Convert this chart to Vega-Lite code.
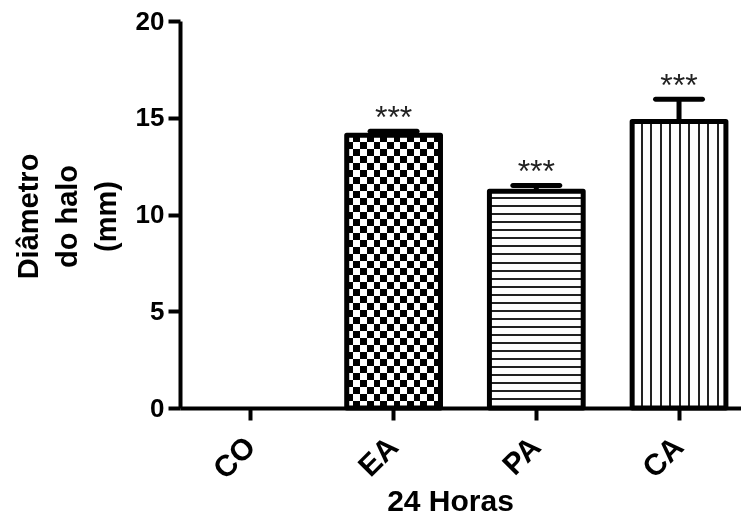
{
  "$schema": "https://vega.github.io/schema/vega-lite/v6.json",
  "width": 561,
  "height": 387,
  "autosize": {"type": "none"},
  "padding": {"left": 180, "top": 21, "right": 0, "bottom": 107},
  "background": "white",
  "config": {"view": {"stroke": null}, "font": "Liberation Sans"},
  "data": {
    "values": [
      {"g": "CO", "mean": 0, "upper": null, "star": ""},
      {"g": "EA", "mean": 14.1, "upper": 14.3, "star": "***"},
      {"g": "PA", "mean": 11.2, "upper": 11.5, "star": "***"},
      {"g": "CA", "mean": 14.8, "upper": 15.95, "star": "***"}
    ]
  },
  "encoding": {
    "x": {
      "field": "g",
      "type": "nominal",
      "sort": null,
      "scale": {"domain": ["CO", "EA", "PA", "CA"], "paddingInner": 0.343, "paddingOuter": 0.137, "align": 0.614},
      "axis": {
        "title": "24 Horas",
        "titleFont": "Liberation Sans",
        "titleFontSize": 30,
        "titleFontWeight": "bold",
        "titleColor": "#000",
        "titleX": 270,
        "titleY": 102,
        "titleBaseline": "alphabetic",
        "titleAlign": "center",
        "labelAngle": -45,
        "labelAlign": "right",
        "labelBaseline": "middle",
        "labelFont": "Liberation Sans",
        "labelFontSize": 30,
        "labelFontWeight": "bold",
        "labelColor": "#000",
        "labelPadding": 22,
        "tickSize": 12,
        "tickWidth": 4,
        "tickColor": "#000",
        "domainColor": "#000",
        "domainWidth": 4,
        "grid": false
      }
    },
    "y": {
      "field": "mean",
      "type": "quantitative",
      "scale": {"domain": [0, 20], "nice": false},
      "axis": {
        "values": [0, 5, 10, 15, 20],
        "title": ["Diâmetro", "do halo", "(mm)"],
        "titleFont": "Liberation Sans",
        "titleFontSize": 29,
        "titleFontWeight": "bold",
        "titleLineHeight": 39,
        "titleBaseline": "top",
        "titleAlign": "center",
        "titleX": -166,
        "titleY": 195,
        "titleColor": "#000",
        "labelFont": "Liberation Sans",
        "labelFontSize": 26,
        "labelFontWeight": "bold",
        "labelColor": "#000",
        "labelPadding": 4,
        "tickSize": 12,
        "tickWidth": 4,
        "tickColor": "#000",
        "domainColor": "#000",
        "domainWidth": 4,
        "grid": false
      }
    }
  },
  "layer": [
    {
      "transform": [{"filter": "datum.g === 'EA'"}],
      "mark": {
        "type": "bar",
        "fill": {
          "gradient": "linear", "x1": 0, "y1": 0, "x2": 0, "y2": 1,
          "stops": [
            {"offset": 0, "color": "#fff"},
            {"offset": 0.02564, "color": "#fff"}, {"offset": 0.02564, "color": "#000"},
            {"offset": 0.05128, "color": "#000"}, {"offset": 0.05128, "color": "#fff"},
            {"offset": 0.07692, "color": "#fff"}, {"offset": 0.07692, "color": "#000"},
            {"offset": 0.10256, "color": "#000"}, {"offset": 0.10256, "color": "#fff"},
            {"offset": 0.12821, "color": "#fff"}, {"offset": 0.12821, "color": "#000"},
            {"offset": 0.15385, "color": "#000"}, {"offset": 0.15385, "color": "#fff"},
            {"offset": 0.17949, "color": "#fff"}, {"offset": 0.17949, "color": "#000"},
            {"offset": 0.20513, "color": "#000"}, {"offset": 0.20513, "color": "#fff"},
            {"offset": 0.23077, "color": "#fff"}, {"offset": 0.23077, "color": "#000"},
            {"offset": 0.25641, "color": "#000"}, {"offset": 0.25641, "color": "#fff"},
            {"offset": 0.28205, "color": "#fff"}, {"offset": 0.28205, "color": "#000"},
            {"offset": 0.30769, "color": "#000"}, {"offset": 0.30769, "color": "#fff"},
            {"offset": 0.33333, "color": "#fff"}, {"offset": 0.33333, "color": "#000"},
            {"offset": 0.35897, "color": "#000"}, {"offset": 0.35897, "color": "#fff"},
            {"offset": 0.38462, "color": "#fff"}, {"offset": 0.38462, "color": "#000"},
            {"offset": 0.41026, "color": "#000"}, {"offset": 0.41026, "color": "#fff"},
            {"offset": 0.4359, "color": "#fff"}, {"offset": 0.4359, "color": "#000"},
            {"offset": 0.46154, "color": "#000"}, {"offset": 0.46154, "color": "#fff"},
            {"offset": 0.48718, "color": "#fff"}, {"offset": 0.48718, "color": "#000"},
            {"offset": 0.51282, "color": "#000"}, {"offset": 0.51282, "color": "#fff"},
            {"offset": 0.53846, "color": "#fff"}, {"offset": 0.53846, "color": "#000"},
            {"offset": 0.5641, "color": "#000"}, {"offset": 0.5641, "color": "#fff"},
            {"offset": 0.58974, "color": "#fff"}, {"offset": 0.58974, "color": "#000"},
            {"offset": 0.61538, "color": "#000"}, {"offset": 0.61538, "color": "#fff"},
            {"offset": 0.64103, "color": "#fff"}, {"offset": 0.64103, "color": "#000"},
            {"offset": 0.66667, "color": "#000"}, {"offset": 0.66667, "color": "#fff"},
            {"offset": 0.69231, "color": "#fff"}, {"offset": 0.69231, "color": "#000"},
            {"offset": 0.71795, "color": "#000"}, {"offset": 0.71795, "color": "#fff"},
            {"offset": 0.74359, "color": "#fff"}, {"offset": 0.74359, "color": "#000"},
            {"offset": 0.76923, "color": "#000"}, {"offset": 0.76923, "color": "#fff"},
            {"offset": 0.79487, "color": "#fff"}, {"offset": 0.79487, "color": "#000"},
            {"offset": 0.82051, "color": "#000"}, {"offset": 0.82051, "color": "#fff"},
            {"offset": 0.84615, "color": "#fff"}, {"offset": 0.84615, "color": "#000"},
            {"offset": 0.87179, "color": "#000"}, {"offset": 0.87179, "color": "#fff"},
            {"offset": 0.89744, "color": "#fff"}, {"offset": 0.89744, "color": "#000"},
            {"offset": 0.92308, "color": "#000"}, {"offset": 0.92308, "color": "#fff"},
            {"offset": 0.94872, "color": "#fff"}, {"offset": 0.94872, "color": "#000"},
            {"offset": 0.97436, "color": "#000"}, {"offset": 0.97436, "color": "#fff"},
            {"offset": 1, "color": "#fff"}
          ]
        }
      }
    },
    {
      "transform": [{"filter": "datum.g === 'EA'"}],
      "mark": {
        "type": "bar",
        "blend": "difference",
        "fill": {
          "gradient": "linear", "x1": 0, "y1": 0, "x2": 1, "y2": 0,
          "stops": [
            {"offset": 0, "color": "#000"},
            {"offset": 0.07143, "color": "#000"}, {"offset": 0.07143, "color": "#fff"},
            {"offset": 0.14286, "color": "#fff"}, {"offset": 0.14286, "color": "#000"},
            {"offset": 0.21429, "color": "#000"}, {"offset": 0.21429, "color": "#fff"},
            {"offset": 0.28571, "color": "#fff"}, {"offset": 0.28571, "color": "#000"},
            {"offset": 0.35714, "color": "#000"}, {"offset": 0.35714, "color": "#fff"},
            {"offset": 0.42857, "color": "#fff"}, {"offset": 0.42857, "color": "#000"},
            {"offset": 0.5, "color": "#000"}, {"offset": 0.5, "color": "#fff"},
            {"offset": 0.57143, "color": "#fff"}, {"offset": 0.57143, "color": "#000"},
            {"offset": 0.64286, "color": "#000"}, {"offset": 0.64286, "color": "#fff"},
            {"offset": 0.71429, "color": "#fff"}, {"offset": 0.71429, "color": "#000"},
            {"offset": 0.78571, "color": "#000"}, {"offset": 0.78571, "color": "#fff"},
            {"offset": 0.85714, "color": "#fff"}, {"offset": 0.85714, "color": "#000"},
            {"offset": 0.92857, "color": "#000"}, {"offset": 0.92857, "color": "#fff"},
            {"offset": 1, "color": "#fff"}
          ]
        }
      }
    },
    {
      "transform": [{"filter": "datum.g === 'PA'"}],
      "mark": {
        "type": "bar",
        "fill": {
          "gradient": "linear", "x1": 0, "y1": 0, "x2": 0, "y2": 1,
          "stops": [
            {"offset": 0, "color": "#fff"},
            {"offset": 0.02778, "color": "#fff"}, {"offset": 0.02778, "color": "#222"}, {"offset": 0.03704, "color": "#222"}, {"offset": 0.03704, "color": "#fff"},
            {"offset": 0.06481, "color": "#fff"}, {"offset": 0.06481, "color": "#222"}, {"offset": 0.07407, "color": "#222"}, {"offset": 0.07407, "color": "#fff"},
            {"offset": 0.10185, "color": "#fff"}, {"offset": 0.10185, "color": "#222"}, {"offset": 0.11111, "color": "#222"}, {"offset": 0.11111, "color": "#fff"},
            {"offset": 0.13889, "color": "#fff"}, {"offset": 0.13889, "color": "#222"}, {"offset": 0.14815, "color": "#222"}, {"offset": 0.14815, "color": "#fff"},
            {"offset": 0.17593, "color": "#fff"}, {"offset": 0.17593, "color": "#222"}, {"offset": 0.18519, "color": "#222"}, {"offset": 0.18519, "color": "#fff"},
            {"offset": 0.21296, "color": "#fff"}, {"offset": 0.21296, "color": "#222"}, {"offset": 0.22222, "color": "#222"}, {"offset": 0.22222, "color": "#fff"},
            {"offset": 0.25, "color": "#fff"}, {"offset": 0.25, "color": "#222"}, {"offset": 0.25926, "color": "#222"}, {"offset": 0.25926, "color": "#fff"},
            {"offset": 0.28704, "color": "#fff"}, {"offset": 0.28704, "color": "#222"}, {"offset": 0.2963, "color": "#222"}, {"offset": 0.2963, "color": "#fff"},
            {"offset": 0.32407, "color": "#fff"}, {"offset": 0.32407, "color": "#222"}, {"offset": 0.33333, "color": "#222"}, {"offset": 0.33333, "color": "#fff"},
            {"offset": 0.36111, "color": "#fff"}, {"offset": 0.36111, "color": "#222"}, {"offset": 0.37037, "color": "#222"}, {"offset": 0.37037, "color": "#fff"},
            {"offset": 0.39815, "color": "#fff"}, {"offset": 0.39815, "color": "#222"}, {"offset": 0.40741, "color": "#222"}, {"offset": 0.40741, "color": "#fff"},
            {"offset": 0.43519, "color": "#fff"}, {"offset": 0.43519, "color": "#222"}, {"offset": 0.44444, "color": "#222"}, {"offset": 0.44444, "color": "#fff"},
            {"offset": 0.47222, "color": "#fff"}, {"offset": 0.47222, "color": "#222"}, {"offset": 0.48148, "color": "#222"}, {"offset": 0.48148, "color": "#fff"},
            {"offset": 0.50926, "color": "#fff"}, {"offset": 0.50926, "color": "#222"}, {"offset": 0.51852, "color": "#222"}, {"offset": 0.51852, "color": "#fff"},
            {"offset": 0.5463, "color": "#fff"}, {"offset": 0.5463, "color": "#222"}, {"offset": 0.55556, "color": "#222"}, {"offset": 0.55556, "color": "#fff"},
            {"offset": 0.58333, "color": "#fff"}, {"offset": 0.58333, "color": "#222"}, {"offset": 0.59259, "color": "#222"}, {"offset": 0.59259, "color": "#fff"},
            {"offset": 0.62037, "color": "#fff"}, {"offset": 0.62037, "color": "#222"}, {"offset": 0.62963, "color": "#222"}, {"offset": 0.62963, "color": "#fff"},
            {"offset": 0.65741, "color": "#fff"}, {"offset": 0.65741, "color": "#222"}, {"offset": 0.66667, "color": "#222"}, {"offset": 0.66667, "color": "#fff"},
            {"offset": 0.69444, "color": "#fff"}, {"offset": 0.69444, "color": "#222"}, {"offset": 0.7037, "color": "#222"}, {"offset": 0.7037, "color": "#fff"},
            {"offset": 0.73148, "color": "#fff"}, {"offset": 0.73148, "color": "#222"}, {"offset": 0.74074, "color": "#222"}, {"offset": 0.74074, "color": "#fff"},
            {"offset": 0.76852, "color": "#fff"}, {"offset": 0.76852, "color": "#222"}, {"offset": 0.77778, "color": "#222"}, {"offset": 0.77778, "color": "#fff"},
            {"offset": 0.80556, "color": "#fff"}, {"offset": 0.80556, "color": "#222"}, {"offset": 0.81481, "color": "#222"}, {"offset": 0.81481, "color": "#fff"},
            {"offset": 0.84259, "color": "#fff"}, {"offset": 0.84259, "color": "#222"}, {"offset": 0.85185, "color": "#222"}, {"offset": 0.85185, "color": "#fff"},
            {"offset": 0.87963, "color": "#fff"}, {"offset": 0.87963, "color": "#222"}, {"offset": 0.88889, "color": "#222"}, {"offset": 0.88889, "color": "#fff"},
            {"offset": 0.91667, "color": "#fff"}, {"offset": 0.91667, "color": "#222"}, {"offset": 0.92593, "color": "#222"}, {"offset": 0.92593, "color": "#fff"},
            {"offset": 0.9537, "color": "#fff"}, {"offset": 0.9537, "color": "#222"}, {"offset": 0.96296, "color": "#222"}, {"offset": 0.96296, "color": "#fff"},
            {"offset": 1, "color": "#fff"}
          ]
        }
      }
    },
    {
      "transform": [{"filter": "datum.g === 'CA'"}],
      "mark": {
        "type": "bar",
        "fill": {
          "gradient": "linear", "x1": 0, "y1": 0, "x2": 1, "y2": 0,
          "stops": [
            {"offset": 0, "color": "#fff"},
            {"offset": 0.0926, "color": "#fff"}, {"offset": 0.0926, "color": "#222"}, {"offset": 0.1138, "color": "#222"}, {"offset": 0.1138, "color": "#fff"},
            {"offset": 0.1937, "color": "#fff"}, {"offset": 0.1937, "color": "#222"}, {"offset": 0.2149, "color": "#222"}, {"offset": 0.2149, "color": "#fff"},
            {"offset": 0.2947, "color": "#fff"}, {"offset": 0.2947, "color": "#222"}, {"offset": 0.3159, "color": "#222"}, {"offset": 0.3159, "color": "#fff"},
            {"offset": 0.3958, "color": "#fff"}, {"offset": 0.3958, "color": "#222"}, {"offset": 0.417, "color": "#222"}, {"offset": 0.417, "color": "#fff"},
            {"offset": 0.4968, "color": "#fff"}, {"offset": 0.4968, "color": "#222"}, {"offset": 0.518, "color": "#222"}, {"offset": 0.518, "color": "#fff"},
            {"offset": 0.5979, "color": "#fff"}, {"offset": 0.5979, "color": "#222"}, {"offset": 0.6191, "color": "#222"}, {"offset": 0.6191, "color": "#fff"},
            {"offset": 0.699, "color": "#fff"}, {"offset": 0.699, "color": "#222"}, {"offset": 0.7202, "color": "#222"}, {"offset": 0.7202, "color": "#fff"},
            {"offset": 0.8, "color": "#fff"}, {"offset": 0.8, "color": "#222"}, {"offset": 0.8212, "color": "#222"}, {"offset": 0.8212, "color": "#fff"},
            {"offset": 0.9011, "color": "#fff"}, {"offset": 0.9011, "color": "#222"}, {"offset": 0.9223, "color": "#222"}, {"offset": 0.9223, "color": "#fff"},
            {"offset": 1, "color": "#fff"}
          ]
        }
      }
    },
    {
      "transform": [{"filter": "datum.upper != null"}],
      "mark": {"type": "rule", "stroke": "#000", "strokeWidth": 5},
      "encoding": {
        "y2": {"field": "upper"}
      }
    },
    {
      "transform": [{"filter": "datum.mean > 0"}],
      "mark": {"type": "bar", "fill": "transparent", "stroke": "#000", "strokeWidth": 5, "strokeJoin": "round"}
    },
    {
      "transform": [{"filter": "datum.upper != null"}],
      "mark": {"type": "tick", "size": 52, "thickness": 5, "color": "#000", "opacity": 1, "cornerRadius": 2.5},
      "encoding": {
        "y": {"field": "upper", "type": "quantitative", "scale": {"domain": [0, 20], "nice": false}}
      }
    },
    {
      "transform": [{"filter": "datum.upper != null"}],
      "mark": {"type": "text", "font": "Liberation Sans", "fontSize": 32, "baseline": "alphabetic", "dy": -3, "fill": "#222"},
      "encoding": {
        "y": {"field": "upper", "type": "quantitative", "scale": {"domain": [0, 20], "nice": false}},
        "text": {"field": "star"}
      }
    }
  ]
}
